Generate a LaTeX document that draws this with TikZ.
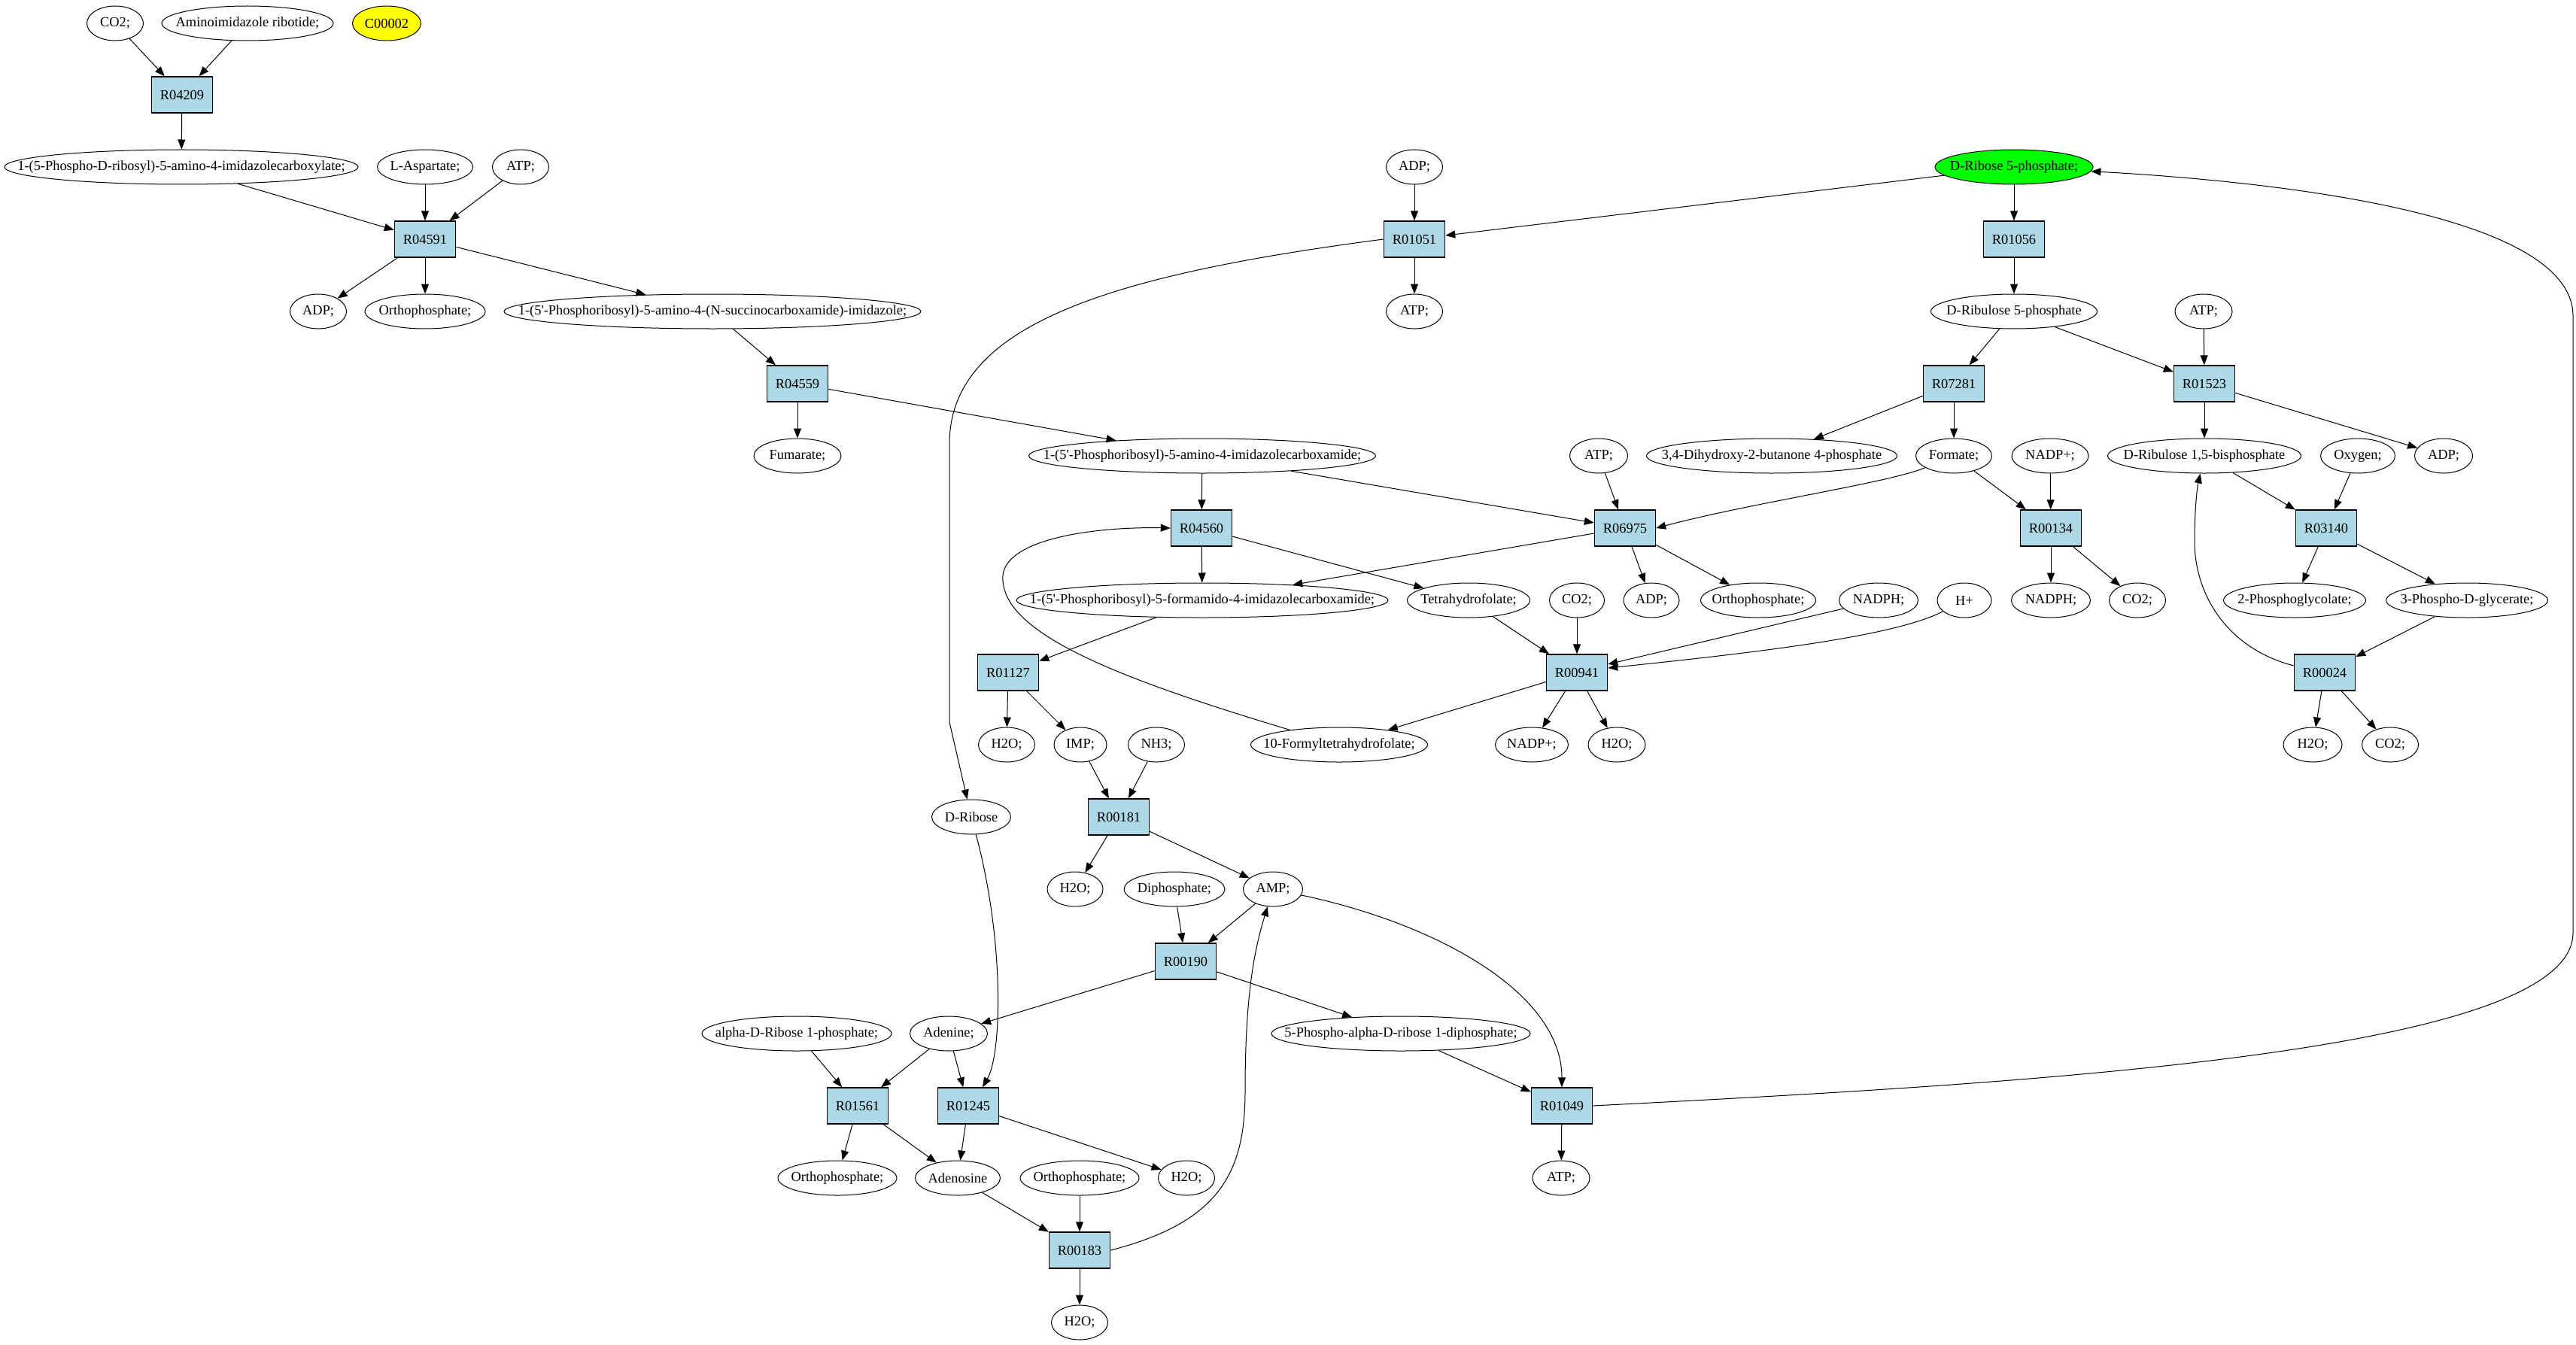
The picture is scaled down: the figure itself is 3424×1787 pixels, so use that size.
\documentclass[tikz,border=0pt]{standalone}
\usepackage{fontspec}
\setmainfont{Liberation Serif}
\usetikzlibrary{shapes.geometric,arrows.meta}
\definecolor{lblue}{HTML}{ADD8E6}
\definecolor{gvgreen}{HTML}{00FF00}
\definecolor{gvyellow}{HTML}{FFFF00}
\newcommand{\zt}[1]{\makebox[0pt]{#1}}
\newcommand{\qs}{\textquotesingle}
\begin{document}
\begin{tikzpicture}[x=0.5pt,y=-0.5pt,
  met/.style={ellipse, draw, line width=0.5pt, minimum height=23pt, inner sep=0pt,
    minimum width=#1, font=\fontsize{9.2pt}{11pt}\selectfont},
  met/.default=37.5pt,
  rxn/.style={rectangle, draw, fill=lblue, line width=0.7pt, minimum width=40.5pt,
    minimum height=24pt, inner sep=0pt, font=\fontsize{9.2pt}{11pt}\selectfont},
  ar/.style={-{Triangle[length=6.5pt,width=5pt]}, line width=0.5pt}]
\fill[white] (0,0) rectangle (3424,1787);
\useasboundingbox (0,0) rectangle (3424,1787);

% row 1
\node[met=37.5pt] (co2a) at (153,31) {\zt{CO2;}};
\node[met=114pt] (air) at (329,31) {\zt{Aminoimidazole ribotide;}};
\node[met=45.5pt, fill=gvyellow] (c00002) at (514,31) {\zt{C00002}};
% row 2
\node[rxn] (R04209) at (242,126) {R04209};
% row 3
\node[met=235pt] (cair) at (241,222) {\zt{1-(5-Phospho-D-ribosyl)-5-amino-4-imidazolecarboxylate;}};
\node[met=63.5pt] (asp) at (565,222) {\zt{L-Aspartate;}};
\node[met=37.5pt] (atpa) at (692,222) {\zt{ATP;}};
\node[met=37.5pt] (adpb) at (1880,222) {\zt{ADP;}};
\node[met=105pt, fill=gvgreen] (r5p) at (2677,222) {\zt{D-Ribose 5-phosphate;}};
% row 4
\node[rxn] (R04591) at (565,318) {R04591};
\node[rxn] (R01051) at (1880,318) {R01051};
\node[rxn] (R01056) at (2677,318) {R01056};
% row 5
\node[met=37.5pt] (adpa) at (423,414) {\zt{ADP;}};
\node[met=80pt] (ortha) at (565,414) {\zt{Orthophosphate;}};
\node[met=277pt] (saicar) at (947,414) {\zt{1-(5\qs-Phosphoribosyl)-5-amino-4-(N-succinocarboxamide)-imidazole;}};
\node[met=37.5pt] (atpb) at (1880,414) {\zt{ATP;}};
\node[met=110.5pt] (ru5p) at (2677,414) {\zt{D-Ribulose 5-phosphate}};
\node[met=38pt] (atpc) at (2929,414) {\zt{ATP;}};
% row 6
\node[rxn] (R04559) at (1060,510) {R04559};
\node[rxn] (R07281) at (2597,510) {R07281};
\node[rxn] (R01523) at (2930,510) {R01523};
% row 7
\node[met=58pt] (fum) at (1060,606) {\zt{Fumarate;}};
\node[met=230.5pt] (aicar) at (1598,606) {\zt{1-(5\qs-Phosphoribosyl)-5-amino-4-imidazolecarboxamide;}};
\node[met=38.5pt] (atpd) at (2125,606) {\zt{ATP;}};
\node[met=166.5pt] (dhbp) at (2355,606) {\zt{3,4-Dihydroxy-2-butanone 4-phosphate}};
\node[met=50.5pt] (formate) at (2597,606) {\zt{Formate;}};
\node[met=51pt] (nadpa) at (2725,606) {\zt{NADP+;}};
\node[met=128.5pt] (rubp) at (2930,606) {\zt{D-Ribulose 1,5-bisphosphate}};
\node[met=49.5pt] (oxy) at (3134,606) {\zt{Oxygen;}};
\node[met=38.5pt] (adpc) at (3248,606) {\zt{ADP;}};
% row 8
\node[rxn] (R04560) at (1597,702) {R04560};
\node[rxn] (R06975) at (2160,702) {R06975};
\node[rxn] (R00134) at (2726,702) {R00134};
\node[rxn] (R03140) at (3092,702) {R03140};
% row 9
\node[met=247pt] (fgar) at (1598,798) {\zt{1-(5\qs-Phosphoribosyl)-5-formamido-4-imidazolecarboxamide;}};
\node[met=81.5pt] (thf) at (1952,798) {\zt{Tetrahydrofolate;}};
\node[met=36.5pt] (co2b) at (2096,798) {\zt{CO2;}};
\node[met=37pt] (adpd) at (2195,798) {\zt{ADP;}};
\node[met=76.5pt] (orthb) at (2337,798) {\zt{Orthophosphate;}};
\node[met=52.5pt] (nadph1) at (2497,798) {\zt{NADPH;}};
\node[met=36pt] (hplus) at (2611,798) {\zt{H+}};
\node[met=52.5pt] (nadph2) at (2726,798) {\zt{NADPH;}};
\node[met=37.5pt] (co2c) at (2841,798) {\zt{CO2;}};
\node[met=94.5pt] (pglyc) at (3050,798) {\zt{2-Phosphoglycolate;}};
\node[met=107.5pt] (pga) at (3279,798) {\zt{3-Phospho-D-glycerate;}};
% row 10
\node[rxn] (R01127) at (1340,894) {R01127};
\node[rxn] (R00941) at (2096,894) {R00941};
\node[rxn] (R00024) at (3090,894) {R00024};
% row 11
\node[met=37.5pt] (h2oa) at (1338,990) {\zt{H2O;}};
\node[met=35pt] (imp) at (1436,990) {\zt{IMP;}};
\node[met=37.5pt] (nh3) at (1537,990) {\zt{NH3;}};
\node[met=117.5pt] (fthf) at (1780,990) {\zt{10-Formyltetrahydrofolate;}};
\node[met=48.5pt] (nadpb) at (2036,990) {\zt{NADP+;}};
\node[met=38pt] (h2ob) at (2149,990) {\zt{H2O;}};
\node[met=39pt] (h2oc) at (3074,990) {\zt{H2O;}};
\node[met=37.5pt] (co2d) at (3177,990) {\zt{CO2;}};
% row 12
\node[met=52.5pt] (drib) at (1291,1086) {\zt{D-Ribose}};
\node[rxn] (R00181) at (1487,1086) {R00181};
% row 13
\node[met=37pt] (h2od) at (1429,1182) {\zt{H2O;}};
\node[met=67pt] (dipho) at (1561,1182) {\zt{Diphosphate;}};
\node[met=39.5pt] (amp) at (1692,1182) {\zt{AMP;}};
% row 14
\node[rxn] (R00190) at (1576,1278) {R00190};
% row 15
\node[met=126pt] (ar1p) at (1059,1374) {\zt{alpha-D-Ribose 1-phosphate;}};
\node[met=51.5pt] (adenine) at (1261,1374) {\zt{Adenine;}};
\node[met=172pt] (prpp) at (1862,1374) {\zt{5-Phospho-alpha-D-ribose 1-diphosphate;}};
% row 16
\node[rxn] (R01561) at (1140,1470) {R01561};
\node[rxn] (R01245) at (1287,1470) {R01245};
\node[rxn] (R01049) at (2076,1470) {R01049};
% row 17
\node[met=79pt] (orthc) at (1113,1566) {\zt{Orthophosphate;}};
\node[met=56.5pt] (adenosine) at (1273,1566) {\zt{Adenosine}};
\node[met=79pt] (orthd) at (1435,1566) {\zt{Orthophosphate;}};
\node[met=37.5pt] (h2oe) at (1577,1566) {\zt{H2O;}};
\node[met=38pt] (atpe) at (2075,1566) {\zt{ATP;}};
% row 18
\node[rxn] (R00183) at (1435,1662) {R00183};
% row 19
\node[met=37.5pt] (h2of) at (1435,1758) {\zt{H2O;}};

% edges
\draw[ar] (co2a) -- (R04209);
\draw[ar] (air) -- (R04209);
\draw[ar] (R04209) -- (cair);
\draw[ar] (cair) -- (R04591);
\draw[ar] (asp) -- (R04591);
\draw[ar] (atpa) -- (R04591);
\draw[ar] (R04591) -- (adpa);
\draw[ar] (R04591) -- (ortha);
\draw[ar] (R04591) -- (saicar);
\draw[ar] (saicar) -- (R04559);
\draw[ar] (R04559) -- (fum);
\draw[ar] (R04559) -- (aicar);
\draw[ar] (aicar) -- (R04560);
\draw[ar] (aicar) -- (R06975);
\draw[ar] (R04560) -- (fgar);
\draw[ar] (R04560) -- (thf);
\draw[ar] (R06975) -- (fgar);
\draw[ar] (atpd) -- (R06975);
\draw[ar] (formate) .. controls (2510,642) and (2330,668) .. (R06975.east);
\draw[ar] (R06975) -- (adpd);
\draw[ar] (R06975) -- (orthb);
\draw[ar] (fgar) -- (R01127);
\draw[ar] (R01127) -- (h2oa);
\draw[ar] (R01127) -- (imp);
\draw[ar] (imp) -- (R00181);
\draw[ar] (nh3) -- (R00181);
\draw[ar] (R00181) -- (h2od);
\draw[ar] (R00181) -- (amp);
\draw[ar] (amp) -- (R00190);
\draw[ar] (dipho) -- (R00190);
\draw[ar] (R00190) -- (adenine);
\draw[ar] (R00190) -- (prpp);
\draw[ar] (prpp) -- (R01049);
\draw[ar] (amp) .. controls (1910,1228) and (2076,1320) .. (R01049.north);
\draw[ar] (R01049) -- (atpe);
\draw[ar] (R01049.east) .. controls (2700,1440) and (3420,1400) .. (3420,1240) -- (3420,420) .. controls (3420,280) and (3000,240) .. (r5p);
\draw[ar] (r5p) -- (R01056);
\draw[ar] (R01056) -- (ru5p);
\draw[ar] (r5p) -- (R01051);
\draw[ar] (adpb) -- (R01051);
\draw[ar] (R01051) -- (atpb);
\draw[ar] (R01051.west) .. controls (1480,365) and (1262,430) .. (1262,590) -- (1262,960) -- (drib);
\draw[ar] (drib) .. controls (1335,1250) and (1332,1400) .. ([xshift=9.5pt]R01245.north);
\draw[ar] (ar1p) -- (R01561);
\draw[ar] (adenine) -- (R01561);
\draw[ar] (adenine) -- (R01245);
\draw[ar] (R01561) -- (orthc);
\draw[ar] (R01561) -- (adenosine);
\draw[ar] (R01245) -- (adenosine);
\draw[ar] (R01245) -- (h2oe);
\draw[ar] (adenosine) -- (R00183);
\draw[ar] (orthd) -- (R00183);
\draw[ar] (R00183) -- (h2of);
\draw[ar] (R00183.east) .. controls (1620,1625) and (1655,1560) .. (1655,1450) .. controls (1655,1320) and (1668,1260) .. (amp);
\draw[ar] (thf) -- (R00941);
\draw[ar] (co2b) -- (R00941);
\draw[ar] (nadph1) -- ([yshift=5.5pt]R00941.east);
\draw[ar] (hplus) .. controls (2520,845) and (2350,866) .. ([yshift=3pt]R00941.east);
\draw[ar] (R00941) -- (fthf);
\draw[ar] (R00941) -- (nadpb);
\draw[ar] (R00941) -- (h2ob);
\draw[ar] (fthf) .. controls (1480,900) and (1328,840) .. (1333,765) .. controls (1338,715) and (1460,700) .. (R04560.west);
\draw[ar] (ru5p) -- (R07281);
\draw[ar] (ru5p) -- (R01523);
\draw[ar] (atpc) -- (R01523);
\draw[ar] (R07281) -- (dhbp);
\draw[ar] (R07281) -- (formate);
\draw[ar] (R01523) -- (rubp);
\draw[ar] (R01523) -- (adpc);
\draw[ar] (formate) -- (R00134);
\draw[ar] (nadpa) -- (R00134);
\draw[ar] (R00134) -- (nadph2);
\draw[ar] (R00134) -- (co2c);
\draw[ar] (rubp) -- (R03140);
\draw[ar] (oxy) -- (R03140);
\draw[ar] (R03140) -- (pglyc);
\draw[ar] (R03140) -- (pga);
\draw[ar] (pga) -- (R00024);
\draw[ar] (R00024) -- (h2oc);
\draw[ar] (R00024) -- (co2d);
\draw[ar] ([yshift=4.5pt]R00024.west) .. controls (2960,862) and (2917,790) .. (2917,720) .. controls (2917,680) and (2920,650) .. (rubp);
\end{tikzpicture}
\end{document}
